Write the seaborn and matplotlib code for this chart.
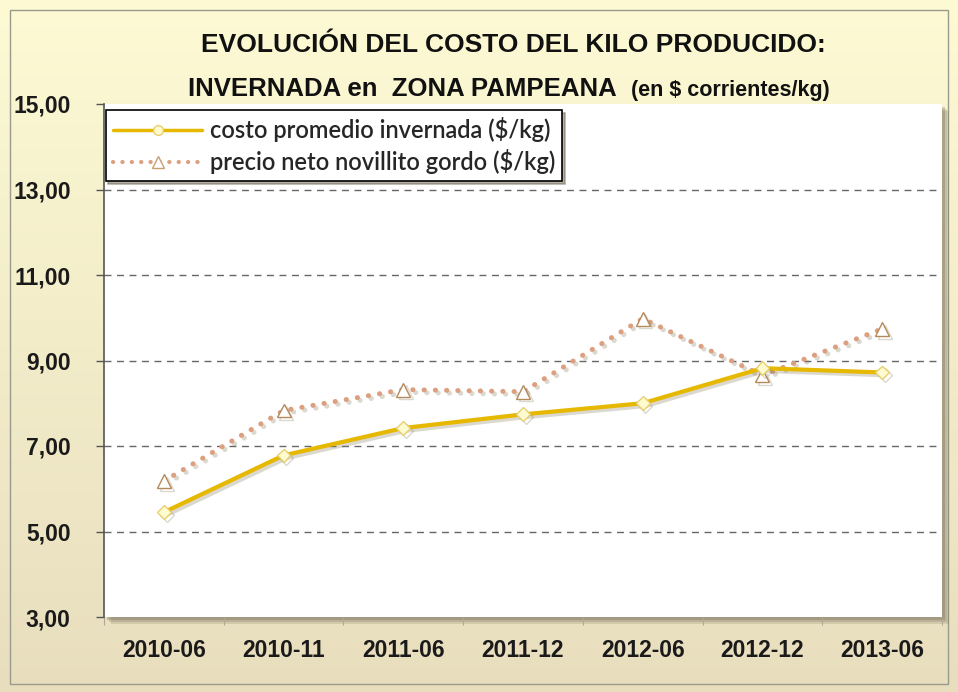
import numpy as np
import pandas as pd
import matplotlib
matplotlib.use("Agg")
import matplotlib.pyplot as plt
import matplotlib.patheffects as pe
from matplotlib.patches import Rectangle
from matplotlib.lines import Line2D
import seaborn as sns

# Period labels and series values ($/kg)
periodos = ["2010-06", "2010-11", "2011-06", "2011-12", "2012-06", "2012-12", "2013-06"]
costo_invernada = [5.45, 6.78, 7.42, 7.74, 8.00, 8.82, 8.72]
precio_novillo = [6.18, 7.83, 8.32, 8.27, 9.98, 8.65, 9.74]
y_ticks = [3, 5, 7, 9, 11, 13, 15]

df = pd.DataFrame({
    "periodo": periodos,
    "costo": costo_invernada,
    "precio": precio_novillo,
})

sns.set_theme(style="white")
plt.rcParams["font.family"] = ["Liberation Sans", "DejaVu Sans"]

fig = plt.figure(figsize=(9.58, 6.92), dpi=100)

# Cream-to-tan gradient behind everything
bg = fig.add_axes([0, 0, 1, 1], zorder=-10)
grad = np.linspace(0, 1, 256).reshape(-1, 1)
top_c = np.array([253, 250, 212]) / 255
bot_c = np.array([232, 222, 190]) / 255
img = top_c[None, None, :] * (1 - grad[:, :, None]) + bot_c[None, None, :] * grad[:, :, None]
bg.imshow(img, aspect="auto", extent=[0, 1, 0, 1], origin="upper")
bg.add_patch(Rectangle((10 / 958, 8 / 692), 938 / 958, 674 / 692, fill=False,
                       edgecolor="#9a9a8a", lw=1.0))
bg.set_xlim(0, 1)
bg.set_ylim(0, 1)
bg.axis("off")

# Plot area with a soft drop shadow
ax_l, ax_b, ax_w, ax_h = 104 / 958, 75 / 692, 838 / 958, 513 / 692
for off, a in [(7, 0.18), (5, 0.22), (3, 0.3)]:
    fig.patches.append(Rectangle((ax_l + off / 958, ax_b - off / 692), ax_w, ax_h,
                                 transform=fig.transFigure, facecolor="#6b6450",
                                 alpha=a, edgecolor="none", zorder=-5))
ax = fig.add_axes([ax_l, ax_b, ax_w, ax_h])
ax.set_facecolor("white")

line_shadow = [pe.SimpleLineShadow(offset=(2, -2), shadow_color="#8a8060", alpha=0.3), pe.Normal()]
dots = (0, (0.05, 2.2))

sns.lineplot(data=df, x="periodo", y="precio", ax=ax, sort=False,
             color="#dca080", lw=3.6, linestyle=dots, dash_capstyle="round",
             marker="^", markersize=10, markerfacecolor="white",
             markeredgecolor="#b48a5a", markeredgewidth=1.0,
             path_effects=line_shadow, zorder=3)
sns.lineplot(data=df, x="periodo", y="costo", ax=ax, sort=False,
             color="#e6b800", lw=3.0,
             marker="D", markersize=7, markerfacecolor="#fffbd0",
             markeredgecolor="#e8d070", markeredgewidth=1.0,
             path_effects=line_shadow, zorder=4)

ax.set_xlim(-0.5, len(periodos) - 0.5)
ax.set_ylim(3, 15)
ax.set_yticks(y_ticks)
ax.set_yticklabels([f"{v:.2f}".replace(".", ",") for v in y_ticks],
                   fontsize=16.5, fontweight="bold", color="#1a1a1a")
ax.set_xticks(range(len(periodos)))
ax.set_xticklabels(periodos, fontsize=16.5, fontweight="bold", color="#1a1a1a")
ax.tick_params(axis="x", length=0, pad=16)
ax.tick_params(axis="y", length=6, width=1, color="#555555", left=True, pad=18)
# category boundary ticks along the bottom
ax.set_xticks(np.arange(-0.5, len(periodos) + 0.5, 1), minor=True)
ax.tick_params(axis="x", which="minor", length=6, width=0.8, color="#b0a890", bottom=True)

for v in y_ticks[1:-1]:
    ax.axhline(v, color="#666666", lw=1.0, ls=(0, (5, 4)), zorder=1)

for s in ["top", "right", "bottom"]:
    ax.spines[s].set_visible(False)
ax.spines["left"].set_color("#555555")
ax.spines["left"].set_linewidth(1.2)
ax.set_xlabel("")
ax.set_ylabel("")

# Legend
handles = [
    Line2D([], [], color="#e6b800", lw=2.5, marker="o", markersize=7,
           markerfacecolor="#fffbd0", markeredgecolor="#e8d070"),
    Line2D([], [], color="#dca080", lw=3.0, linestyle=dots, dash_capstyle="round",
           marker="^", markersize=8, markerfacecolor="white", markeredgecolor="#c8a070"),
]
leg = ax.legend(handles, ["costo promedio invernada ($/kg)", "precio neto novillito gordo ($/kg)"],
                loc="upper left", bbox_to_anchor=(0.002, 0.988), borderaxespad=0,
                frameon=True, fancybox=False, shadow={"color": "#6b6450", "alpha": 0.5},
                edgecolor="black", framealpha=1, handlelength=3.8, handletextpad=0.3,
                borderpad=0.3, labelspacing=0.3,
                prop={"family": ["Lato", "DejaVu Sans"], "size": 17, "weight": "semibold"})
leg.get_frame().set_linewidth(1.2)
leg.set_zorder(10)

# Title
fig.text(0.536, 0.935, "EVOLUCIÓN DEL COSTO DEL KILO PRODUCIDO:", ha="center", va="center",
         fontsize=19, fontweight="bold", color="#111111")
fig.text(0.196, 0.872, "INVERNADA en  ZONA PAMPEANA", ha="left", va="center",
         fontsize=18.5, fontweight="bold", color="#111111")
fig.text(0.659, 0.869, "(en $ corrientes/kg)", ha="left", va="center",
         fontsize=15.5, fontweight="bold", color="#111111")

fig.savefig("out.png", dpi=100)
